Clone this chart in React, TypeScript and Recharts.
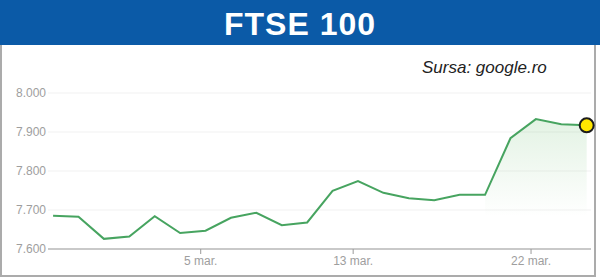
import React from "react";
import {
  ComposedChart,
  Line,
  Area,
  XAxis,
  YAxis,
  CartesianGrid,
  ReferenceDot,
} from "recharts";

// Trading days 26 Feb – 26 Mar
const dates = [
  "26 feb.", "27 feb.", "28 feb.", "29 feb.", "1 mar.", "4 mar.", "5 mar.", "6 mar.",
  "7 mar.", "8 mar.", "11 mar.", "12 mar.", "13 mar.", "14 mar.", "15 mar.", "18 mar.",
  "19 mar.", "20 mar.", "21 mar.", "22 mar.", "25 mar.", "26 mar.",
];
const closes = [
  7685, 7683, 7626, 7632, 7684, 7641, 7647, 7680, 7693, 7661, 7668,
  7749, 7774, 7744, 7730, 7725, 7739, 7739, 7884, 7933, 7920, 7917,
];
const yTicks = [7600, 7700, 7800, 7900, 8000];
const xTickLabels = ["5 mar.", "13 mar.", "22 mar."];
const xTickIndex = [6, 12, 19];
const xTickOffset = -0.19; // ticks fall at the session open, points at the close
const fillStartIndex = 17;

const data = closes.map((v, i) => ({
  i,
  date: dates[i],
  v,
  fill: i >= fillStartIndex ? v : null,
}));
const xTicks = xTickIndex.map((t) => t + xTickOffset);
const lastIdx = closes.length - 1;

const FONT = "Arial, 'Liberation Sans', Helvetica, sans-serif";

export default function App() {
  return (
    <div style={{ position: "absolute", left: 0, top: 0, width: 600, height: 279, background: "#fff" }}>
      <svg width={600} height={279} style={{ position: "absolute", left: 0, top: 0 }}>
        <rect x={1} y={44} width={594} height={232} fill="#fff" stroke="#ababab" strokeWidth={2} />
        <rect x={0} y={0} width={600} height={45} fill="#0b5aa7" />
        <text
          x={300}
          y={35}
          textAnchor="middle"
          fill="#ffffff"
          fontFamily={FONT}
          fontWeight="bold"
          fontSize={32}
          letterSpacing={1}
        >
          FTSE 100
        </text>
        <text x={422} y={73} fill="#222" fontFamily={FONT} fontStyle="italic" fontSize={17}>
          Sursa: google.ro
        </text>
      </svg>
      <div style={{ position: "absolute", left: 0, top: 0 }}>
        <ComposedChart
          width={600}
          height={279}
          data={data}
          margin={{ top: 93, right: 9, bottom: 0, left: 0 }}
        >
          <defs>
            <linearGradient id="fillGrad" x1="0" y1="0" x2="0" y2="1">
              <stop offset="0%" stopColor="#4caf50" stopOpacity={0.26} />
              <stop offset="75%" stopColor="#4caf50" stopOpacity={0} />
            </linearGradient>
          </defs>
          <CartesianGrid horizontal vertical={false} stroke="#f1f1f1" />
          <XAxis
            dataKey="i"
            type="number"
            domain={[-0.2, 21.17]}
            ticks={xTicks}
            tickFormatter={(_v: number, idx: number) => xTickLabels[idx]}
            height={30}
            stroke="#9a9a9a"
            tickSize={5}
            tickMargin={2}
            tick={{ fill: "#9e9e9e", fontSize: 12, fontFamily: FONT }}
            interval={0}
          />
          <YAxis
            domain={[7600, 8000]}
            ticks={yTicks}
            width={48}
            axisLine={false}
            tickLine={false}
            tickSize={0}
            tickMargin={2}
            tickFormatter={(v: number) => (v / 1000).toFixed(3)}
            tick={{ fill: "#9e9e9e", fontSize: 12, fontFamily: FONT }}
            interval={0}
          />
          <Area
            dataKey="fill"
            type="linear"
            stroke="none"
            fill="url(#fillGrad)"
            baseValue={7600}
            isAnimationActive={false}
            connectNulls={false}
          />
          <Line
            dataKey="v"
            type="linear"
            stroke="#47a460"
            strokeWidth={2}
            dot={false}
            activeDot={false}
            isAnimationActive={false}
          />
          <ReferenceDot
            x={lastIdx}
            y={closes[lastIdx]}
            r={7}
            fill="#ffe600"
            stroke="#1b1b1b"
            strokeWidth={2}
          />
        </ComposedChart>
      </div>
    </div>
  );
}
